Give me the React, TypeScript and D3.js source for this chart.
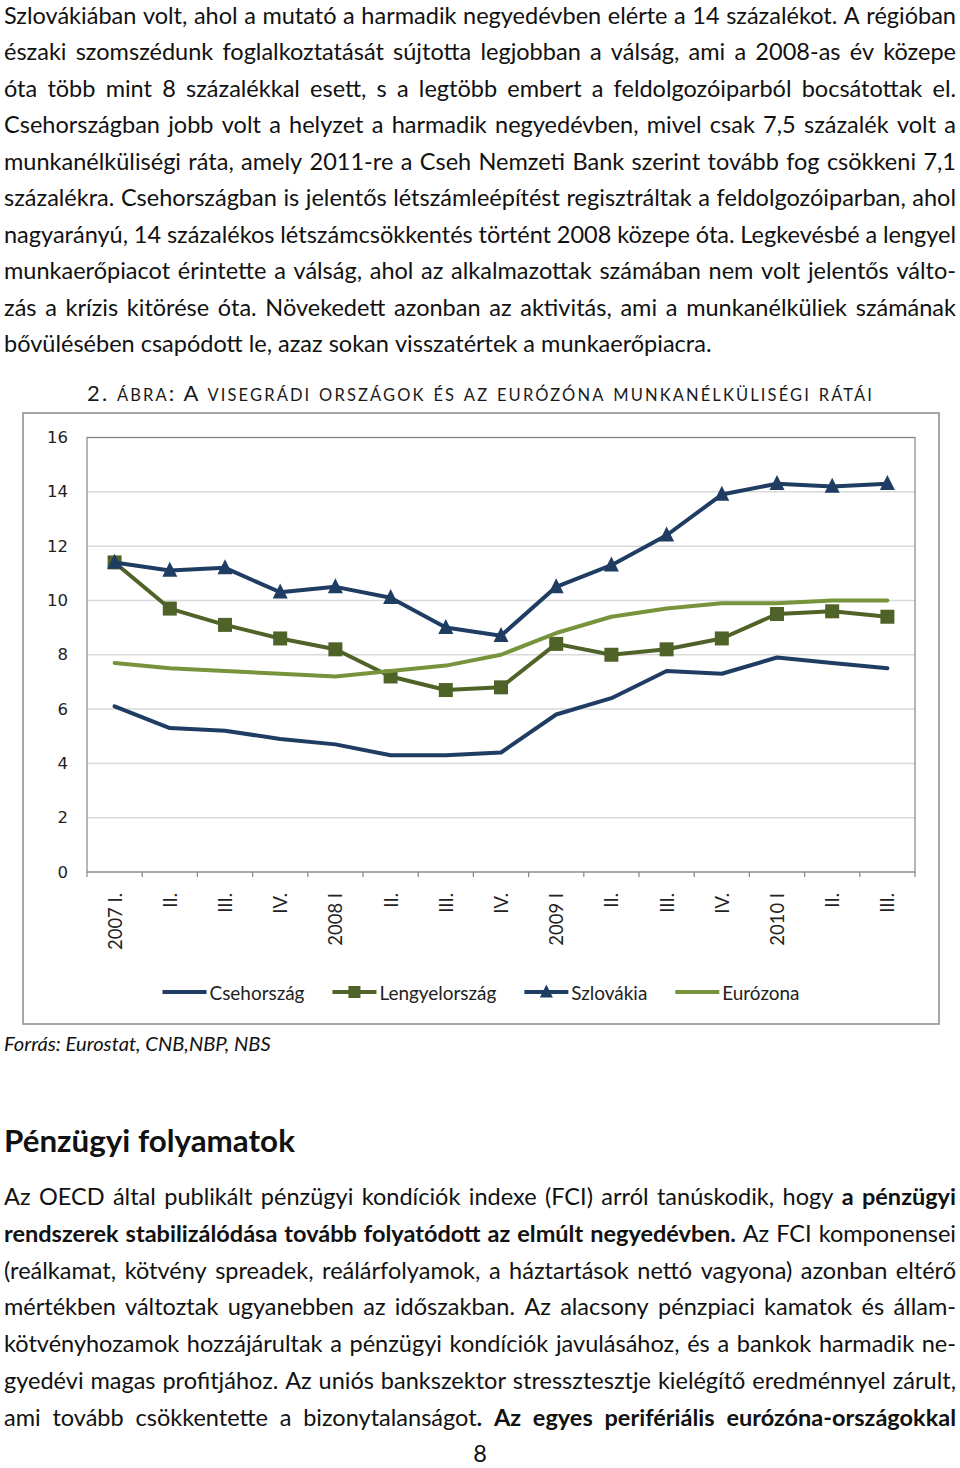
import React, { useEffect, useState } from "react";
import * as d3 from "d3";

// ---------- chart data ----------
const categories = ["2007 I.", "II.", "III.", "IV.", "2008 I", "II.", "III.", "IV.", "2009 I", "II.", "III.", "IV.", "2010 I", "II.", "III."];
const csehorszag = [6.1, 5.3, 5.2, 4.9, 4.7, 4.3, 4.3, 4.4, 5.8, 6.4, 7.4, 7.3, 7.9, 7.7, 7.5];
const lengyelorszag = [11.4, 9.7, 9.1, 8.6, 8.2, 7.2, 6.7, 6.8, 8.4, 8.0, 8.2, 8.6, 9.5, 9.6, 9.4];
const szlovakia = [11.4, 11.1, 11.2, 10.3, 10.5, 10.1, 9.0, 8.7, 10.5, 11.3, 12.4, 13.9, 14.3, 14.2, 14.3];
const eurozona = [7.7, 7.5, 7.4, 7.3, 7.2, 7.4, 7.6, 8.0, 8.8, 9.4, 9.7, 9.9, 9.9, 10.0, 10.0];
const yTicks = [0, 2, 4, 6, 8, 10, 12, 14, 16];
const seriesNames = ["Csehország", "Lengyelország", "Szlovákia", "Eurózona"];
const seriesColors = ["#1F3D63", "#4F6228", "#1F3D63", "#77933C"];
const seriesMarkers = ["none", "square", "triangle", "none"];
const seriesValues = [csehorszag, lengyelorszag, szlovakia, eurozona];

const chartTitle = "2. ábra: A visegrádi országok és az eurózóna munkanélküliségi rátái";
const sourceText = "Forrás: Eurostat, CNB,NBP, NBS";
const headingText = "Pénzügyi folyamatok";
const pageNumber = "8";

type Seg = { t: string; b?: boolean };

const para1: Seg[][] = [
  [{ t: "Szlovákiában volt, ahol a mutató a harmadik negyedévben elérte a 14 százalékot. A régióban" }],
  [{ t: "északi szomszédunk foglalkoztatását sújtotta legjobban a válság, ami a 2008-as év közepe" }],
  [{ t: "óta több mint 8 százalékkal esett, s a legtöbb embert a feldolgozóiparból bocsátottak el." }],
  [{ t: "Csehországban jobb volt a helyzet a harmadik negyedévben, mivel csak 7,5 százalék volt a" }],
  [{ t: "munkanélküliségi ráta, amely 2011-re a Cseh Nemzeti Bank szerint tovább fog csökkeni 7,1" }],
  [{ t: "százalékra. Csehországban is jelentős létszámleépítést regisztráltak a feldolgozóiparban, ahol" }],
  [{ t: "nagyarányú, 14 százalékos létszámcsökkentés történt 2008 közepe óta. Legkevésbé a lengyel" }],
  [{ t: "munkaerőpiacot érintette a válság, ahol az alkalmazottak számában nem volt jelentős válto-" }],
  [{ t: "zás a krízis kitörése óta. Növekedett azonban az aktivitás, ami a munkanélküliek számának" }],
  [{ t: "bővülésében csapódott le, azaz sokan visszatértek a munkaerőpiacra." }],
];

const para2: Seg[][] = [
  [{ t: "Az OECD által publikált pénzügyi kondíciók indexe (FCI) arról tanúskodik, hogy " }, { t: "a pénzügyi", b: true }],
  [{ t: "rendszerek stabilizálódása tovább folyatódott az elmúlt negyedévben.", b: true }, { t: " Az FCI komponensei" }],
  [{ t: "(reálkamat, kötvény spreadek, reálárfolyamok, a háztartások nettó vagyona) azonban eltérő" }],
  [{ t: "mértékben változtak ugyanebben az időszakban. Az alacsony pénzpiaci kamatok és állam-" }],
  [{ t: "kötvényhozamok hozzájárultak a pénzügyi kondíciók javulásához, és a bankok harmadik ne-" }],
  [{ t: "gyedévi magas profitjához. Az uniós bankszektor stressztesztje kielégítő eredménnyel zárult," }],
  [{ t: "ami tovább csökkentette a bizonytalanságot" }, { t: ". Az egyes perifériális eurózóna-országokkal", b: true }],
];
const para2Justify = [true, true, true, true, true, true, true];

// ---------- layout ----------
const W = 960;
const H = 1468;
const TEXT_LEFT = 4;
const TEXT_RIGHT = 956;
const P1_BASE = 23.5;
const P1_PITCH = 36.5;
const P2_BASE = 1205;
const P2_PITCH = 36.8;
const BODY_FONT = "Lato";
const TEXT_COLOR = "#111";

const frame = { x: 23, y: 413, w: 916, h: 611 };
const plot = { left: 87, right: 915, top: 437.5, bottom: 872 };

let _ctx: CanvasRenderingContext2D | null = null;
function measure(text: string, size: number, weight = 400, style = "normal", family = BODY_FONT) {
  if (!_ctx) _ctx = document.createElement("canvas").getContext("2d");
  const ctx = _ctx!;
  ctx.font = `${style} ${weight} ${size}px "${family}"`;
  return ctx.measureText(text).width;
}
function fitSize(text: string, target: number, weight = 400, style = "normal", family = BODY_FONT) {
  return (100 * target) / measure(text, 100, weight, style, family);
}

type Piece = { t: string; b: boolean };
function toWords(segs: Seg[]): Piece[][] {
  const words: Piece[][] = [];
  let cur: Piece[] = [];
  for (const s of segs) {
    const b = !!s.b;
    for (const ch of s.t) {
      if (ch === " ") {
        if (cur.length) words.push(cur);
        cur = [];
      } else {
        const last = cur[cur.length - 1];
        if (last && last.b === b) last.t += ch;
        else cur.push({ t: ch, b });
      }
    }
  }
  if (cur.length) words.push(cur);
  return words;
}

function lineNatural(segs: Seg[], size: number) {
  const words = toWords(segs);
  const ws = words.map((w) => d3.sum(w, (p) => measure(p.t, size, p.b ? 700 : 400)));
  return d3.sum(ws) + (words.length - 1) * measure(" ", size);
}

function TextLine({ segs, y, size, justify, k }: { segs: Seg[]; y: number; size: number; justify: boolean; k: string }) {
  const words = toWords(segs);
  const widths = words.map((w) => d3.sum(w, (p) => measure(p.t, size, p.b ? 700 : 400)));
  const total = d3.sum(widths);
  const space = measure(" ", size);
  const gap = justify && words.length > 1 ? (TEXT_RIGHT - TEXT_LEFT - total) / (words.length - 1) : space;
  let x = TEXT_LEFT;
  const els = words.map((w, i) => {
    const el = (
      <text key={k + "-" + i} x={x} y={y} fontFamily={BODY_FONT} fontSize={size} fill={TEXT_COLOR}>
        {w.map((p, j) => (
          <tspan key={j} fontWeight={p.b ? 700 : 400}>{p.t}</tspan>
        ))}
      </text>
    );
    x += widths[i] + gap;
    return el;
  });
  return <g>{els}</g>;
}

function smallCapsRuns(text: string) {
  const runs: { t: string; small: boolean }[] = [];
  for (const ch of text) {
    const small = ch !== ch.toUpperCase();
    const c = ch.toUpperCase();
    const last = runs[runs.length - 1];
    if (last && last.small === small) last.t += c;
    else runs.push({ t: c, small });
  }
  return runs;
}

export default function App() {
  const [, setTick] = useState(0);
  useEffect(() => {
    const f = (document as any).fonts;
    if (f && f.ready) f.ready.then(() => setTick(1));
  }, []);

  const bodySize = (708 * 16) / lineNatural(para1[para1.length - 1], 16);
  const headingSize = fitSize(headingText, 291, 700);
  const sourceSize = fitSize(sourceText, 267, 400, "italic");
  const xLabelSize = fitSize("2007 I.", 57);
  const legendSize = fitSize("Csehország", 95);

  const x = d3.scaleBand<string>().domain(categories.map((c, i) => String(i))).range([plot.left, plot.right]).padding(0);
  const bw = x.bandwidth();
  const cx = (i: number) => (x(String(i)) as number) + bw / 2;
  const y = d3.scaleLinear().domain([0, 16]).range([plot.bottom, plot.top]);
  const line = d3
    .line<number>()
    .x((_, i) => cx(i))
    .y((d) => y(d));

  const triPath = (px: number, py: number, s: number) =>
    `M${px},${py - s * 0.58}L${px + s / 2},${py + s * 0.42}L${px - s / 2},${py + s * 0.42}Z`;

  const renderMarker = (type: string, px: number, py: number, color: string, s: number, key: string) => {
    if (type === "square") return <rect key={key} x={px - s / 2} y={py - s / 2} width={s} height={s} fill={color} />;
    if (type === "triangle") return <path key={key} d={triPath(px, py, s + 1)} fill={color} />;
    return null;
  };

  // legend layout
  const legLine = 44;
  const legTextGap = 3;
  const legItemGap = 28;
  const legWidths = seriesNames.map((n) => measure(n, legendSize));
  const legTotal = d3.sum(legWidths) + seriesNames.length * (legLine + legTextGap) + (seriesNames.length - 1) * legItemGap;
  let legX = frame.x + frame.w / 2 - legTotal / 2;
  const legY = 992;
  const legendItems = seriesNames.map((n, i) => {
    const x0 = legX;
    legX += legLine + legTextGap + legWidths[i] + legItemGap;
    return (
      <g key={"leg" + i}>
        <line x1={x0} x2={x0 + legLine} y1={legY} y2={legY} stroke={seriesColors[i]} strokeWidth={4} />
        {renderMarker(seriesMarkers[i], x0 + legLine / 2, legY, seriesColors[i], 12, "lm" + i)}
        <text x={x0 + legLine + legTextGap} y={legY} dominantBaseline="central" fontFamily={BODY_FONT} fontSize={legendSize} fill="#222">
          {n}
        </text>
      </g>
    );
  });

  const titleRuns = smallCapsRuns(chartTitle);

  return (
    <svg width={W} height={H} style={{ position: "absolute", left: 0, top: 0, background: "#fff" }}>
      <rect x={0} y={0} width={W} height={H} fill="#fff" />
      {para1.map((segs, i) => (
        <TextLine key={"p1" + i} k={"p1" + i} segs={segs} y={P1_BASE + i * P1_PITCH} size={bodySize} justify={i < para1.length - 1} />
      ))}

      {/* chart title */}
      <text x={plot.left} y={401} fontFamily={BODY_FONT} fill="#1a1a1a" letterSpacing={1} textLength={786} lengthAdjust="spacing">
        {titleRuns.map((r, i) => (
          <tspan key={i} fontSize={r.small ? 16.5 : 22}>{r.t}</tspan>
        ))}
      </text>

      {/* chart frame */}
      <rect x={frame.x} y={frame.y} width={frame.w} height={frame.h} fill="#fff" stroke="#8a8a8a" strokeWidth={1.5} />

      {/* gridlines */}
      {yTicks.map((t) => (
        <line key={"g" + t} x1={plot.left} x2={plot.right} y1={y(t)} y2={y(t)} stroke="#D9D9D9" strokeWidth={1.5} />
      ))}
      {/* plot border */}
      <rect x={plot.left} y={plot.top} width={plot.right - plot.left} height={plot.bottom - plot.top} fill="none" stroke="#868686" strokeWidth={1.2} />
      {/* x ticks */}
      {d3.range(categories.length + 1).map((i) => {
        const tx = plot.left + i * bw;
        return <line key={"xt" + i} x1={tx} x2={tx} y1={plot.bottom} y2={plot.bottom + 5} stroke="#868686" strokeWidth={1.2} />;
      })}
      {/* y labels */}
      {yTicks.map((t) => (
        <text key={"yl" + t} x={68} y={y(t)} textAnchor="end" dominantBaseline="central" fontFamily="DejaVu Sans" fontSize={16.5} fill="#222">
          {t}
        </text>
      ))}
      {/* x labels */}
      {categories.map((c, i) => (
        <text
          key={"xl" + i}
          transform={`translate(${cx(i)},${plot.bottom + 21}) rotate(-90)`}
          textAnchor="end"
          dominantBaseline="central"
          fontFamily={BODY_FONT}
          fontSize={xLabelSize}
          fill="#222"
        >
          {c}
        </text>
      ))}

      {/* series */}
      {seriesValues.map((vals, si) => (
        <g key={"s" + si}>
          <path d={line(vals) || ""} fill="none" stroke={seriesColors[si]} strokeWidth={4} strokeLinejoin="round" strokeLinecap="round" />
          {vals.map((v, i) => renderMarker(seriesMarkers[si], cx(i), y(v), seriesColors[si], 14, "m" + si + "-" + i))}
        </g>
      ))}

      {legendItems}

      {/* source */}
      <text x={TEXT_LEFT} y={1051} fontFamily={BODY_FONT} fontStyle="italic" fontSize={sourceSize} fill={TEXT_COLOR}>
        {sourceText}
      </text>

      {/* heading */}
      <text x={TEXT_LEFT} y={1152} fontFamily={BODY_FONT} fontWeight={700} fontSize={headingSize} fill={TEXT_COLOR}>
        {headingText}
      </text>

      {para2.map((segs, i) => (
        <TextLine key={"p2" + i} k={"p2" + i} segs={segs} y={P2_BASE + i * P2_PITCH} size={bodySize} justify={para2Justify[i]} />
      ))}

      <text x={W / 2} y={1462} textAnchor="middle" fontFamily={BODY_FONT} fontSize={bodySize} fill={TEXT_COLOR}>
        {pageNumber}
      </text>
    </svg>
  );
}
